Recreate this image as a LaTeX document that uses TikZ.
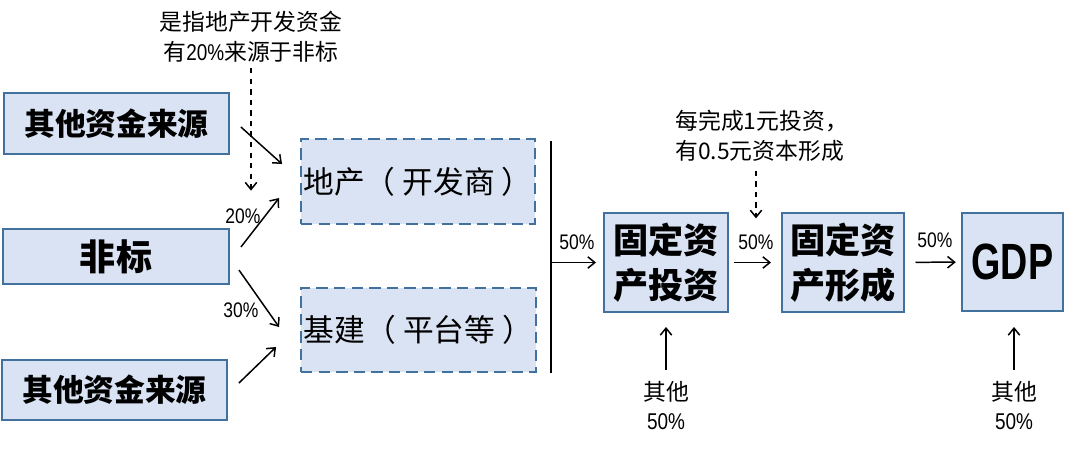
\documentclass[tikz,border=0pt]{standalone}
\usepackage{fontspec}
\setmainfont{Noto Sans CJK SC}
\newfontfamily\numfont[FakeStretch=0.83]{Liberation Sans}
\newfontfamily\gdpfont[FakeStretch=0.74]{Liberation Sans}
\usetikzlibrary{calc,arrows.meta}
\definecolor{boxfill}{RGB}{218,227,243}
\definecolor{boxline}{RGB}{65,113,156}

\begin{document}
\begin{tikzpicture}[x=0.02cm, y=-0.02cm, >={Straight Barb[length=4pt,width=6.5pt]},
  every node/.style={inner sep=0pt, font=\fontsize{13}{17}\selectfont},
  srcbox/.style={draw=boxline, line width=1.1pt, fill=boxfill, font=\fontsize{17.5}{21}\selectfont\bfseries},
  dashbox/.style={draw=boxline, line width=1.1pt, fill=boxfill, dash pattern=on 6.5pt off 3.5pt, font=\fontsize{17.5}{21}\selectfont},
  stagebox/.style={draw=boxline, line width=1.1pt, fill=boxfill, align=center, font=\fontsize{20}{25.5}\selectfont\bfseries},
  pct/.style={font=\numfont\fontsize{12}{15}\selectfont},
  flow/.style={->, line width=0.85pt}]
\useasboundingbox (0,0) rectangle (1080,451);

% sources of funds
\node[srcbox, minimum width=4.5cm, minimum height=1.22cm] (fund1) at (116.5,123.5) {其他资金来源};
\node[srcbox, minimum width=4.52cm, minimum height=1.1cm, font=\fontsize{20.5}{24}\selectfont\bfseries] (nonstd) at (116,256.5) {非标};
\node[srcbox, minimum width=4.5cm, minimum height=1.2cm] (fund2) at (114.5,390) {其他资金来源};

% borrowers
\node[dashbox, minimum width=4.68cm, minimum height=1.7cm] (estate) at (418,181.5) {地产（\kern4pt 开发商\kern4pt）};
\node[dashbox, minimum width=4.7cm, minimum height=1.68cm] (infra) at (418.5,330) {基建（\kern4pt 平台等\kern4pt）};

\draw[flow] ($(fund1.east)+(11,3.5)$) -- ($(estate.west)+(-18,-17.5)$);
\draw[flow] ($(nonstd.east)+(11,-9.5)$) -- ($(estate.west)+(-21,16.5)$);
\draw[flow] ($(nonstd.east)+(9,13.5)$) -- ($(infra.west)+(-21,-3)$);
\draw[flow] ($(fund2.east)+(11,-7)$) -- ($(infra.west)+(-24,17)$);
\node[pct] (pct20) at (243,216) {20\%};
\node[pct] (pct30) at (241,310) {30\%};

\node[align=center] (note1) at (251,37) {是指地产开发资金\\有{\numfont 20\%}来源于非标};
\draw[->, dashed, line width=0.85pt, shorten <=3pt, shorten >=10pt] (note1.south) -- (note1.south |- pct20.north);

% collecting bar
\coordinate (barTop) at (551,141);
\coordinate (barBot) at (551,373);
\draw[line width=1pt] (barTop) -- (barBot);

% investment chain
\node[stagebox, minimum width=2.48cm, minimum height=1.98cm] (fai) at (666,262.5) {固定资\\产投资};
\node[stagebox, minimum width=2.44cm, minimum height=1.98cm] (gfcf) at (843,262.5) {固定资\\产形成};
\node[stagebox, minimum width=2.02cm, minimum height=1.96cm, font=\gdpfont\bfseries\fontsize{29}{34}\selectfont] (gdp) at (1012.5,262) {GDP};

\draw[flow, shorten >=4pt] (barTop |- fai) -- (fai);
\draw[flow, shorten <=2.8pt, shorten >=5.7pt] (fai) -- (gfcf);
\draw[flow, shorten <=6pt, shorten >=3pt] (gfcf) -- (gdp);
\node[pct] (pctA) at (577,242) {50\%};
\node[pct] (pctB) at (756,242) {50\%};
\node[pct] (pctC) at (935,240) {50\%};

\node[align=left, anchor=west] (note2) at (675,136) {每完成1元投资，\\有0.5元资本形成};
\draw[->, dashed, line width=0.85pt, shorten <=5pt, shorten >=9pt] (pctB |- note2.south) -- (pctB);

% other shares
\node[align=center, font=\fontsize{13}{16.5}\selectfont] (other1) at (666,406) {其他\\{\numfont 50\%}};
\node[align=center, font=\fontsize{13}{16.5}\selectfont] (other2) at (1014,406) {其他\\{\numfont 50\%}};
\draw[flow] ($(fai.south)+(0,57)$) -- ($(fai.south)+(0,14)$);
\draw[flow] ($(gdp.south |- fai.south)+(1.5,57)$) -- ($(gdp.south |- fai.south)+(1.5,14)$);
\end{tikzpicture}
\end{document}
